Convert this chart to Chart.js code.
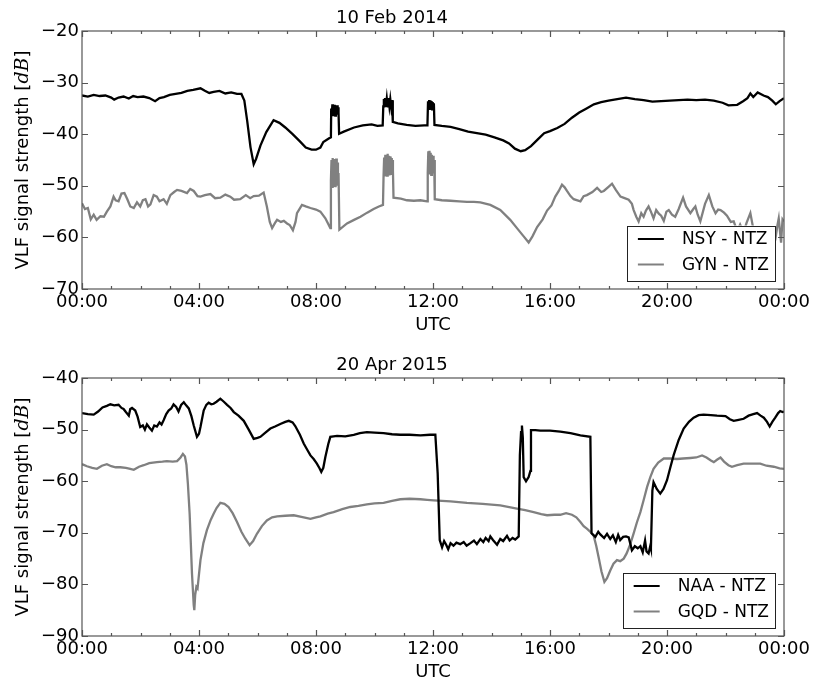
<!DOCTYPE html>
<html>
<head>
<meta charset="utf-8">
<title>VLF signal strength</title>
<script src="https://cdn.jsdelivr.net/npm/chart.js@4/dist/chart.umd.min.js"></script>
<style>
  html, body { margin: 0; padding: 0; background: #fff; }
  #wrap { position: relative; width: 813px; height: 684px; }
  canvas { position: absolute; left: 0; }
  #chart-top { top: 0; }
  #chart-bottom { top: 347px; }
</style>
</head>
<body>
<div id="wrap">
  <canvas id="chart-top" width="813" height="337"></canvas>
  <canvas id="chart-bottom" width="813" height="337"></canvas>
</div>
<script>
// ── Axis ticks ──

const HOUR_TICKS = [0, 4, 8, 12, 16, 20, 24];
const HOUR_LABELS = ["00:00", "04:00", "08:00", "12:00", "16:00", "20:00", "00:00"];

// ── Readings: [hour UTC, dB] ──

// 10 Feb 2014
const nsyReadings = [
  [0, -32.5], [0.2, -32.7], [0.4, -32.4], [0.6, -32.6], [0.8, -32.5], [1.0, -32.9],
  [1.1, -33.3], [1.25, -32.9], [1.42, -32.7], [1.6, -33.1], [1.75, -32.6], [1.9, -32.8],
  [2.1, -32.7], [2.3, -33.0], [2.5, -33.6], [2.65, -33.0], [2.8, -32.8], [3.0, -32.4],
  [3.2, -32.2], [3.4, -32.0], [3.6, -31.6], [3.8, -31.4], [4.05, -31.1], [4.2, -31.6],
  [4.35, -32.0], [4.5, -31.8], [4.7, -31.6], [4.9, -32.1], [5.1, -31.9], [5.3, -32.2],
  [5.45, -32.2], [5.55, -33.5], [5.65, -37.5], [5.76, -42.5], [5.87, -45.8], [5.95, -44.8],
  [6.1, -42.2], [6.3, -39.6], [6.55, -37.3], [6.75, -37.8], [6.95, -38.7], [7.2, -40.0],
  [7.45, -41.4], [7.65, -42.6], [7.85, -43.0], [8.0, -43.0], [8.15, -42.6], [8.25, -41.5],
  [8.45, -40.8], [8.51, -40.6], [8.52, -35.0], [8.54, -36.4], [8.56, -34.2], [8.58, -36.5],
  [8.6, -34.4], [8.62, -36.3], [8.64, -34.3], [8.66, -36.4], [8.68, -34.6], [8.7, -36.2],
  [8.72, -34.4], [8.74, -36.0], [8.76, -34.8], [8.77, -35.8], [8.79, -39.9], [8.95, -39.5],
  [9.3, -38.7], [9.6, -38.3], [9.9, -38.1], [10.1, -38.4], [10.28, -38.3], [10.3, -34.6],
  [10.32, -33.2], [10.34, -34.8], [10.36, -33.0], [10.39, -34.7], [10.42, -33.1], [10.45, -34.8],
  [10.48, -33.0], [10.51, -34.6], [10.54, -33.2], [10.57, -34.7], [10.6, -33.4], [10.62, -34.6],
  [10.63, -37.6], [10.8, -37.9], [11.1, -38.2], [11.4, -38.4], [11.7, -38.3], [11.81, -38.3],
  [11.83, -33.6], [11.85, -35.2], [11.87, -33.4], [11.89, -35.3], [11.91, -33.5], [11.93, -35.1],
  [11.95, -33.6], [11.97, -35.2], [11.99, -33.8], [12.01, -35.0], [12.03, -34.0], [12.05, -38.2],
  [12.3, -38.4], [12.6, -38.6], [12.9, -39.0], [13.2, -39.5], [13.5, -39.8], [13.8, -40.1],
  [14.1, -40.6], [14.4, -41.2], [14.6, -41.8], [14.8, -42.8], [15.0, -43.3], [15.15, -43.1],
  [15.35, -42.3], [15.6, -40.9], [15.8, -39.8], [16.0, -39.4], [16.25, -38.8], [16.5, -38.0],
  [16.75, -36.8], [17.0, -35.8], [17.25, -35.0], [17.5, -34.2], [17.75, -33.8], [18.0, -33.5],
  [18.3, -33.2], [18.6, -32.9], [18.9, -33.2], [19.2, -33.4], [19.5, -33.7], [19.8, -33.6],
  [20.1, -33.5], [20.4, -33.4], [20.7, -33.3], [21.0, -33.4], [21.3, -33.3], [21.6, -33.5],
  [21.9, -33.9], [22.1, -34.4], [22.4, -34.3], [22.6, -33.6], [22.75, -33.0], [22.85, -32.1],
  [22.95, -32.8], [23.1, -31.9], [23.3, -32.5], [23.45, -32.8], [23.6, -33.5], [23.72, -34.2],
  [23.85, -33.6], [24, -33.0],
];

const gynReadings = [
  [0, -53.4], [0.1, -54.5], [0.2, -54.3], [0.3, -56.5], [0.4, -55.6], [0.5, -56.6],
  [0.63, -55.9], [0.75, -56.0], [0.85, -55.0], [0.97, -54.0], [1.08, -52.1], [1.15, -52.8],
  [1.25, -53.0], [1.35, -51.5], [1.45, -51.4], [1.55, -52.6], [1.65, -54.0], [1.77, -54.3],
  [1.88, -53.2], [1.99, -54.0], [2.08, -52.8], [2.17, -52.6], [2.26, -54.0], [2.34, -53.6],
  [2.45, -51.8], [2.56, -52.1], [2.65, -53.0], [2.79, -52.6], [2.9, -53.5], [3.02, -51.8],
  [3.15, -51.2], [3.25, -50.8], [3.4, -51.0], [3.59, -51.4], [3.7, -50.6], [3.82, -51.0],
  [3.95, -52.0], [4.05, -52.1], [4.2, -51.8], [4.39, -51.6], [4.55, -52.4], [4.73, -52.3],
  [4.9, -51.7], [5.07, -52.1], [5.2, -52.7], [5.41, -52.6], [5.6, -51.8], [5.75, -52.4],
  [5.87, -52.0], [6.05, -51.9], [6.21, -51.3], [6.32, -54.0], [6.42, -57.0], [6.5, -58.2],
  [6.6, -57.2], [6.67, -56.6], [6.8, -57.0], [6.9, -56.8], [7.01, -57.3], [7.1, -57.6],
  [7.21, -58.6], [7.3, -57.0], [7.35, -55.3], [7.52, -53.7], [7.65, -54.0], [7.81, -54.3],
  [8.0, -54.6], [8.15, -55.0], [8.32, -56.3], [8.49, -58.2], [8.51, -49.0], [8.53, -45.0],
  [8.55, -50.2], [8.57, -44.6], [8.59, -50.0], [8.61, -44.8], [8.63, -49.5], [8.65, -45.2],
  [8.67, -50.3], [8.69, -44.7], [8.71, -49.8], [8.73, -45.5], [8.75, -50.0], [8.77, -47.5],
  [8.8, -58.5], [9.06, -57.3], [9.3, -56.6], [9.52, -56.0], [9.75, -55.2], [9.97, -54.5],
  [10.15, -54.0], [10.29, -53.7], [10.31, -48.0], [10.33, -44.5], [10.35, -48.2], [10.37, -44.0],
  [10.39, -47.8], [10.41, -44.1], [10.43, -48.0], [10.45, -43.8], [10.47, -47.6], [10.49, -44.2],
  [10.51, -48.0], [10.53, -44.3], [10.55, -47.7], [10.57, -44.6], [10.59, -47.9], [10.61, -45.0],
  [10.63, -47.0], [10.65, -52.3], [10.9, -52.5], [11.11, -52.8], [11.35, -52.9], [11.57, -52.8],
  [11.8, -53.0], [11.82, -47.5], [11.84, -43.3], [11.86, -47.8], [11.88, -43.2], [11.9, -47.5],
  [11.92, -43.6], [11.94, -47.9], [11.96, -44.0], [11.98, -47.6], [12.0, -44.2], [12.02, -47.4],
  [12.04, -45.0], [12.06, -52.6], [12.3, -52.8], [12.6, -52.9], [12.9, -53.0], [13.16, -53.1],
  [13.4, -53.1], [13.62, -53.2], [13.96, -53.7], [14.3, -54.7], [14.64, -56.6], [14.87, -58.2],
  [15.1, -59.8], [15.27, -61.0], [15.4, -59.8], [15.56, -58.0], [15.75, -56.5], [15.9, -54.8],
  [16.05, -53.8], [16.18, -52.1], [16.3, -51.0], [16.41, -49.8], [16.5, -50.3], [16.58, -51.0],
  [16.7, -52.0], [16.81, -52.6], [17.04, -53.0], [17.15, -52.0], [17.26, -51.8], [17.45, -51.2],
  [17.61, -50.4], [17.75, -51.2], [17.84, -51.0], [18.0, -50.2], [18.12, -49.6], [18.25, -50.8],
  [18.41, -52.1], [18.55, -52.4], [18.69, -52.7], [18.8, -53.5], [18.86, -54.7], [18.95, -56.0],
  [19.03, -56.9], [19.12, -55.3], [19.2, -56.0], [19.28, -54.8], [19.37, -54.0], [19.45, -55.0],
  [19.54, -56.3], [19.63, -54.7], [19.72, -55.4], [19.8, -55.8], [19.89, -56.8], [19.98, -55.0],
  [20.06, -54.7], [20.17, -55.6], [20.28, -56.0], [20.4, -54.5], [20.55, -52.3], [20.65, -54.0],
  [20.8, -55.3], [20.9, -54.5], [20.97, -54.0], [21.05, -55.6], [21.14, -56.9], [21.3, -53.5],
  [21.43, -51.8], [21.55, -54.0], [21.66, -55.3], [21.75, -54.6], [21.83, -54.7], [21.95, -55.2],
  [22.05, -55.8], [22.18, -57.0], [22.28, -56.9], [22.4, -58.8], [22.5, -57.5], [22.62, -59.0],
  [22.72, -57.2], [22.85, -55.3], [22.96, -58.6], [23.1, -59.5], [23.3, -60.0], [23.5, -59.0],
  [23.62, -61.0], [23.7, -60.5], [23.78, -57.5], [23.82, -56.3], [23.9, -61.0], [23.95, -56.5],
  [24, -56.9],
];

// 20 Apr 2015
const naaReadings = [
  [0, -46.8], [0.2, -47.0], [0.4, -47.1], [0.55, -46.5], [0.7, -45.7], [0.85, -45.4],
  [0.97, -45.1], [1.1, -45.3], [1.25, -45.2], [1.35, -45.8], [1.42, -46.0], [1.5, -46.6],
  [1.6, -47.3], [1.65, -46.0], [1.71, -45.8], [1.82, -46.3], [1.9, -47.5], [1.99, -49.5],
  [2.08, -49.2], [2.15, -50.0], [2.22, -49.0], [2.3, -49.6], [2.39, -50.2], [2.47, -49.2],
  [2.56, -49.4], [2.65, -48.6], [2.72, -49.0], [2.79, -48.2], [2.88, -47.0], [2.96, -46.3],
  [3.05, -45.9], [3.13, -45.1], [3.22, -45.6], [3.3, -46.5], [3.39, -45.2], [3.48, -44.7],
  [3.56, -45.3], [3.65, -45.9], [3.74, -47.4], [3.82, -49.2], [3.93, -51.4], [4.0, -50.8],
  [4.05, -49.5], [4.16, -46.3], [4.25, -45.2], [4.33, -44.8], [4.42, -45.1], [4.5, -45.0],
  [4.6, -44.6], [4.73, -44.0], [4.85, -44.6], [4.96, -45.2], [5.08, -45.8], [5.19, -46.6],
  [5.35, -47.3], [5.53, -48.3], [5.7, -50.0], [5.87, -51.8], [6.0, -51.6], [6.1, -51.4],
  [6.27, -50.6], [6.44, -49.8], [6.6, -49.4], [6.78, -48.9], [6.95, -48.5], [7.07, -48.3],
  [7.2, -48.6], [7.29, -49.3], [7.45, -51.0], [7.58, -52.7], [7.7, -53.9], [7.81, -55.0],
  [7.92, -55.7], [8.03, -56.6], [8.12, -57.5], [8.18, -58.2], [8.25, -57.4], [8.32, -55.3],
  [8.42, -52.8], [8.49, -51.4], [8.6, -51.3], [8.72, -51.2], [9.0, -51.3], [9.29, -51.0],
  [9.5, -50.7], [9.74, -50.5], [10.0, -50.6], [10.31, -50.7], [10.6, -50.9], [10.88, -51.0],
  [11.2, -51.0], [11.57, -51.1], [11.9, -51.0], [12.08, -51.0], [12.16, -58.5], [12.23, -71.4],
  [12.31, -72.8], [12.38, -71.6], [12.45, -72.3], [12.52, -73.2], [12.6, -72.0], [12.7, -72.5],
  [12.8, -71.9], [12.93, -72.2], [13.05, -71.8], [13.15, -72.5], [13.28, -72.0], [13.4, -71.5],
  [13.5, -72.2], [13.62, -71.2], [13.72, -71.8], [13.8, -71.0], [13.9, -71.6], [13.96, -70.7],
  [14.05, -71.4], [14.19, -72.3], [14.3, -71.2], [14.4, -71.6], [14.53, -70.6], [14.62, -71.5],
  [14.72, -71.0], [14.81, -71.3], [14.93, -70.7], [14.97, -55.0], [15.01, -50.5], [15.04, -49.2],
  [15.07, -51.5], [15.1, -59.2], [15.18, -60.0], [15.27, -59.2], [15.33, -58.0], [15.35, -50.1],
  [15.5, -50.1], [15.67, -50.2], [16.0, -50.2], [16.35, -50.4], [16.7, -50.7], [17.04, -51.1],
  [17.38, -51.4], [17.42, -70.1], [17.55, -70.8], [17.65, -69.8], [17.72, -70.3], [17.85, -71.0],
  [17.95, -70.2], [18.06, -71.2], [18.15, -70.5], [18.25, -71.8], [18.33, -70.4], [18.4, -71.4],
  [18.5, -70.8], [18.6, -70.7], [18.69, -70.9], [18.75, -72.2], [18.8, -73.4], [18.9, -72.6],
  [19.0, -73.0], [19.09, -72.6], [19.17, -73.8], [19.25, -71.5], [19.3, -73.6], [19.37, -74.0],
  [19.43, -72.5], [19.45, -73.0], [19.5, -61.8], [19.54, -60.2], [19.65, -61.5], [19.77, -62.4],
  [19.88, -61.5], [20.0, -59.8], [20.12, -57.2], [20.23, -54.9], [20.4, -52.0], [20.57, -49.8],
  [20.75, -48.5], [20.91, -47.7], [21.08, -47.2], [21.25, -47.1], [21.5, -47.2], [21.71, -47.3],
  [22.0, -47.4], [22.15, -48.0], [22.28, -48.3], [22.45, -48.1], [22.62, -47.9], [22.79, -47.3],
  [22.95, -47.0], [23.08, -46.8], [23.2, -47.3], [23.31, -47.7], [23.42, -48.5], [23.51, -49.4],
  [23.6, -48.5], [23.7, -47.7], [23.8, -46.8], [23.87, -46.4], [23.95, -46.6], [24, -46.5],
];

const gqdReadings = [
  [0, -56.7], [0.17, -57.1], [0.35, -57.4], [0.51, -57.6], [0.68, -57.0], [0.85, -56.7],
  [1.0, -57.1], [1.15, -57.3], [1.31, -57.3], [1.5, -57.4], [1.65, -57.6], [1.77, -57.8],
  [1.95, -57.2], [2.11, -56.9], [2.3, -56.5], [2.56, -56.3], [2.75, -56.2], [2.9, -56.1],
  [3.1, -56.2], [3.25, -56.1], [3.37, -55.4], [3.45, -54.7], [3.52, -55.2], [3.57, -56.8],
  [3.62, -60.5], [3.68, -66.3], [3.72, -72.0], [3.76, -77.9], [3.82, -84.0], [3.84, -85.0],
  [3.87, -82.0], [3.91, -80.5], [3.95, -80.8], [4.0, -78.0], [4.05, -75.3], [4.15, -72.0],
  [4.27, -69.5], [4.4, -67.5], [4.5, -66.3], [4.6, -65.2], [4.73, -64.2], [4.87, -64.4],
  [5.01, -65.0], [5.15, -66.2], [5.3, -67.9], [5.45, -69.8], [5.58, -71.1], [5.73, -72.4],
  [5.85, -71.6], [5.98, -70.2], [6.15, -68.7], [6.32, -67.6], [6.5, -67.0], [6.67, -66.8],
  [6.95, -66.7], [7.24, -66.6], [7.5, -66.9], [7.81, -67.3], [8.0, -67.0], [8.15, -66.8],
  [8.4, -66.3], [8.6, -66.0], [8.9, -65.4], [9.17, -65.0], [9.45, -64.8], [9.74, -64.5],
  [10.0, -64.3], [10.31, -64.2], [10.6, -63.8], [10.88, -63.5], [11.2, -63.4], [11.57, -63.5],
  [11.8, -63.6], [12.02, -63.7], [12.6, -63.9], [13.16, -64.2], [13.7, -64.4], [14.3, -64.7],
  [14.87, -65.3], [15.15, -65.6], [15.44, -66.0], [15.7, -66.4], [15.9, -66.6], [16.15, -66.5],
  [16.35, -66.5], [16.55, -66.2], [16.75, -66.5], [16.9, -67.0], [17.04, -67.9], [17.15, -68.7],
  [17.26, -69.2], [17.38, -69.8], [17.49, -70.5], [17.58, -72.5], [17.66, -74.7], [17.76, -77.5],
  [17.86, -79.5], [17.95, -78.8], [18.06, -77.3], [18.17, -76.0], [18.29, -75.3], [18.4, -75.5],
  [18.52, -75.0], [18.62, -74.0], [18.74, -72.3], [18.86, -70.1], [18.97, -68.0], [19.09, -66.0],
  [19.2, -63.7], [19.32, -61.1], [19.43, -59.2], [19.54, -57.6], [19.7, -56.4], [19.89, -55.6],
  [20.1, -55.6], [20.34, -55.7], [20.55, -55.6], [20.8, -55.5], [21.0, -55.4], [21.2, -55.0],
  [21.35, -55.4], [21.5, -56.0], [21.6, -56.3], [21.72, -55.8], [21.83, -55.4], [21.95, -56.2],
  [22.1, -56.9], [22.22, -57.2], [22.4, -56.9], [22.62, -56.6], [22.9, -56.6], [23.19, -56.6],
  [23.4, -57.0], [23.65, -57.2], [23.85, -57.5], [24, -57.6],
];

// ── Styling ──

const BLACK = "#000000";
const GREY = "#808080";
const FRAME = "#555555";

Chart.defaults.font.family = "'DejaVu Sans', sans-serif";
Chart.defaults.font.size = 18;
Chart.defaults.color = "#000";

const toPoints = (rows) => rows.map(([x, y]) => ({ x, y }));
const minusSign = (v) => (v < 0 ? "\u2212" + Math.abs(v) : String(v));

// Box around the plot with inward ticks on all four sides
const framePlugin = {
  id: "frame",
  afterDatasetsDraw(chart) {
    const { ctx, chartArea: a, scales: { x, y } } = chart;
    ctx.save();
    ctx.strokeStyle = FRAME;
    ctx.lineWidth = 1.2;
    ctx.beginPath();
    for (let h = 0; h <= 24; h++) {
      const px = Math.round(x.getPixelForValue(h)) + 0.5;
      const len = h % 4 === 0 ? 6 : 3;
      ctx.moveTo(px, a.bottom);
      ctx.lineTo(px, a.bottom - len);
      ctx.moveTo(px, a.top);
      ctx.lineTo(px, a.top + len);
    }
    for (const t of y.ticks) {
      const py = Math.round(y.getPixelForValue(t.value)) + 0.5;
      ctx.moveTo(a.left, py);
      ctx.lineTo(a.left + 6, py);
      ctx.moveTo(a.right, py);
      ctx.lineTo(a.right - 6, py);
    }
    ctx.stroke();
    ctx.strokeRect(a.left, a.top, a.right - a.left, a.bottom - a.top);
    ctx.restore();
  },
};

// Legend box sitting inside the lower-right corner of the plot
const insetLegendPlugin = {
  id: "insetLegend",
  afterDraw(chart) {
    const { ctx, chartArea: a } = chart;
    const sets = chart.data.datasets;
    ctx.save();
    ctx.font = "17px 'DejaVu Sans', sans-serif";
    const textW = Math.max(...sets.map((d) => ctx.measureText(d.label).width));
    const boxR = a.right - 9;
    const boxB = a.bottom - 8.5;
    const boxH = 55;
    const textX = boxR - 6 - textW;
    const lineEnd = textX - 18;
    const lineStart = lineEnd - 26;
    const boxL = lineStart - 11;
    const boxT = boxB - boxH;

    ctx.fillStyle = "#fff";
    ctx.fillRect(boxL, boxT, boxR - boxL, boxH);
    ctx.strokeStyle = "#222";
    ctx.lineWidth = 1;
    ctx.strokeRect(Math.round(boxL) + 0.5, Math.round(boxT) + 0.5, Math.round(boxR - boxL), boxH);

    sets.forEach((d, i) => {
      const rowY = boxT + 13.5 + i * 25.5;
      ctx.strokeStyle = d.borderColor;
      ctx.lineWidth = 2;
      ctx.beginPath();
      ctx.moveTo(lineStart, rowY);
      ctx.lineTo(lineEnd, rowY);
      ctx.stroke();
      ctx.fillStyle = "#000";
      ctx.textBaseline = "middle";
      ctx.fillText(d.label, textX, rowY + 1);
    });
    ctx.restore();
  },
};

// Rotated y-axis label with the unit set in italics
const yLabelPlugin = {
  id: "yLabel",
  afterDraw(chart) {
    const { ctx, chartArea: a } = chart;
    const parts = [
      { text: "VLF signal strength [", font: "18px 'DejaVu Sans', sans-serif" },
      { text: "dB", font: "italic 19px 'DejaVu Serif', serif" },
      { text: "]", font: "18px 'DejaVu Sans', sans-serif" },
    ];
    ctx.save();
    let total = 0;
    for (const p of parts) {
      ctx.font = p.font;
      p.w = ctx.measureText(p.text).width;
      total += p.w;
    }
    ctx.translate(23, (a.top + a.bottom) / 2);
    ctx.rotate(-Math.PI / 2);
    ctx.fillStyle = "#000";
    ctx.textBaseline = "middle";
    let cx = -total / 2;
    for (const p of parts) {
      ctx.font = p.font;
      ctx.fillText(p.text, cx, 0);
      cx += p.w;
    }
    ctx.restore();
  },
};

function makePanel(canvasId, title, series, yMin, yMax) {
  return new Chart(document.getElementById(canvasId), {
    type: "line",
    data: {
      datasets: series.map((s) => ({
        label: s.label,
        data: toPoints(s.rows),
        borderColor: s.color,
        borderWidth: 2.3,
        pointRadius: 0,
        tension: 0,
        fill: false,
      })),
    },
    options: {
      responsive: false,
      animation: false,
      events: [],
      layout: { padding: { left: 0, right: 29, top: 0, bottom: 0 } },
      scales: {
        x: {
          type: "linear",
          min: 0,
          max: 24,
          grid: { display: false, drawTicks: false },
          border: { display: false },
          afterBuildTicks: (scale) => {
            scale.ticks = HOUR_TICKS.map((value) => ({ value }));
          },
          afterFit: (scale) => {
            scale.height = 48;
          },
          ticks: {
            autoSkip: false,
            maxRotation: 0,
            padding: 3,
            callback: (value, index) => HOUR_LABELS[index],
          },
          title: { display: true, text: "UTC", padding: { top: 0, bottom: 1 } },
        },
        y: {
          min: yMin,
          max: yMax,
          grid: { display: false, drawTicks: false },
          border: { display: false },
          afterFit: (scale) => {
            scale.width = 82;
          },
          ticks: { stepSize: 10, padding: 3, callback: minusSign },
        },
      },
      plugins: {
        legend: { display: false },
        tooltip: { enabled: false },
        title: {
          display: true,
          text: title,
          color: "#000",
          font: { size: 18, weight: "normal" },
          padding: { top: 8, bottom: 1.4 },
        },
      },
    },
    plugins: [framePlugin, insetLegendPlugin, yLabelPlugin],
  });
}

makePanel("chart-top", "10 Feb 2014", [
  { label: "NSY - NTZ", rows: nsyReadings, color: BLACK },
  { label: "GYN - NTZ", rows: gynReadings, color: GREY },
], -70, -20);

makePanel("chart-bottom", "20 Apr 2015", [
  { label: "NAA - NTZ", rows: naaReadings, color: BLACK },
  { label: "GQD - NTZ", rows: gqdReadings, color: GREY },
], -90, -40);
</script>
</body>
</html>
